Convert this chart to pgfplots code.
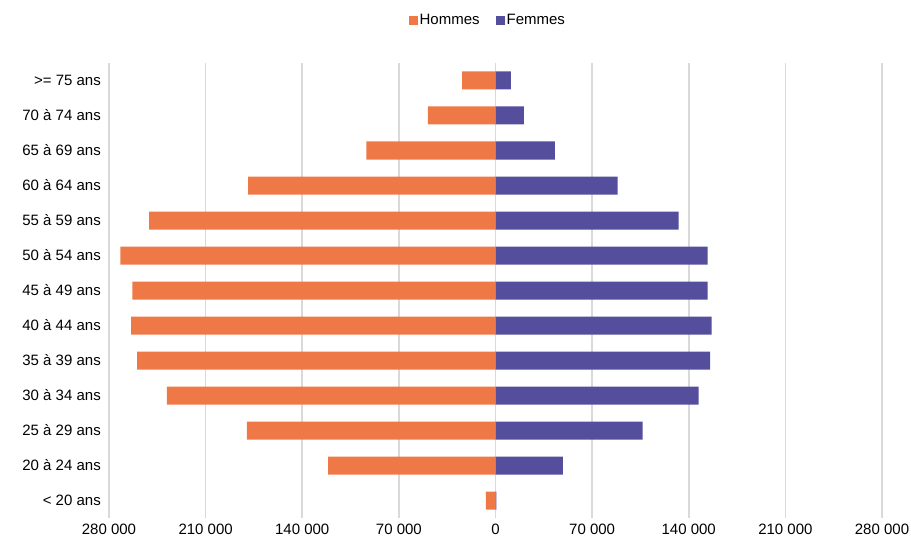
\documentclass[border=0pt]{standalone}
\usepackage{pgfplots}
\pgfplotsset{compat=1.18}
\usepackage{fontspec}
\setmainfont{Liberation Sans}
\definecolor{hom}{RGB}{239,120,71}
\definecolor{fem}{RGB}{84,78,157}
\definecolor{gridc}{RGB}{217,217,217}
\begin{document}
\fontsize{15}{17}\selectfont
\begin{tikzpicture}[x=1pt,y=1pt]
\useasboundingbox (0,0) rectangle (911,542);
\begin{axis}[
  at={(109pt,24pt)}, anchor=south west,
  scale only axis, width=773pt, height=455pt,
  xbar, bar width=18pt, bar shift=0pt,
  xmin=-280000, xmax=280000,
  ymin=-0.5, ymax=12.5,
  xtick={-280000,-210000,-140000,-70000,0,70000,140000,210000,280000},
  xticklabels={280 000,210 000,140 000,70 000,0,70 000,140 000,210 000,280 000},
  ytick={0,...,12},
  yticklabels={< 20 ans,20 à 24 ans,25 à 29 ans,30 à 34 ans,35 à 39 ans,40 à 44 ans,45 à 49 ans,50 à 54 ans,55 à 59 ans,60 à 64 ans,65 à 69 ans,70 à 74 ans,>= 75 ans},
  xmajorgrids=true, ymajorgrids=false,
  major x grid style={draw=gridc, line width=1.6pt},
  axis line style={draw=none}, major tick length=0pt, tick style={draw=none},
  xticklabel style={inner sep=0pt, yshift=-6pt, font=\fontsize{15}{17}\selectfont},
  yticklabel style={inner sep=0pt, xshift=-8pt, font=\fontsize{15}{17}\selectfont},
  legend style={at={(0.4900,1.094)}, anchor=center, draw=none, legend columns=2,
    font=\fontsize{15}{17}\selectfont, inner sep=0pt,
    /tikz/every even column/.append style={column sep=14pt}},
  legend image code/.code={\fill[#1,draw=none] (0pt,-4.5pt) rectangle (9pt,4.5pt);},
  legend cell align=left,
]
\addplot[fill=hom, draw=none] coordinates {
(-7000,0) (-121300,1) (-180200,2) (-238000,3) (-259700,4) (-264000,5) (-263000,6)
(-271700,7) (-251000,8) (-179300,9) (-93500,10) (-49000,11) (-24200,12)};
\addlegendentry{Hommes}
\addplot[fill=fem, draw=none] coordinates {
(700,0) (48800,1) (106500,2) (147100,3) (155500,4) (156500,5) (153600,6)
(153600,7) (132600,8) (88400,9) (43000,10) (20500,11) (11100,12)};
\addlegendentry{Femmes}
\end{axis}
\end{tikzpicture}
\end{document}
